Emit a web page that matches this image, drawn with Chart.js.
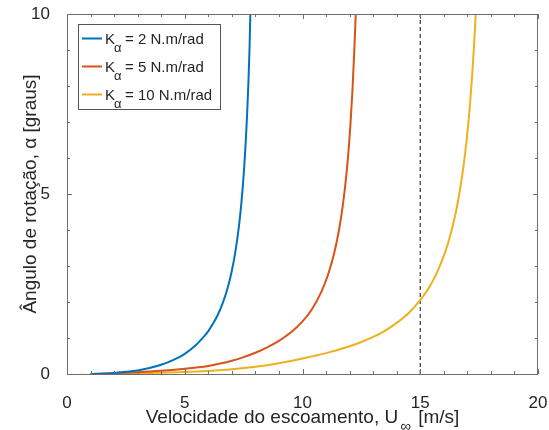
<!DOCTYPE html>
<html>
<head>
<meta charset="utf-8">
<script src="https://cdn.jsdelivr.net/npm/chart.js@4"></script>
<style>
  body { margin: 0; background: #fff; }
  #box { width: 549px; height: 430px; }
</style>
</head>
<body>
<div id="box"><canvas id="myChart"></canvas></div>
<script>
// dados (U em m/s, alfa em graus)
var u2 = [1.0, 1.5, 2.0, 2.5, 3.0, 3.5, 4.0, 4.5, 5.0, 5.5, 5.8, 6.0, 6.2, 6.4, 6.6, 6.8, 7.0, 7.15, 7.3, 7.4, 7.5, 7.58, 7.65, 7.7, 7.75, 7.785];
var alfa2 = [0, 0.01, 0.03, 0.06, 0.1, 0.165, 0.255, 0.385, 0.56, 0.82, 1.03, 1.19, 1.4, 1.64, 1.95, 2.34, 2.87, 3.4, 4.1, 4.72, 5.51, 6.33, 7.23, 8.04, 9.02, 10];

var u5 = [1.0, 2.0, 3.0, 4.0, 5.0, 6.0, 6.5, 7.0, 7.5, 8.0, 8.5, 9.0, 9.5, 10.0, 10.4, 10.8, 11.1, 11.35, 11.55, 11.7, 11.82, 11.93, 12.03, 12.12, 12.2, 12.26];
var alfa5 = [0, 0.02, 0.05, 0.09, 0.145, 0.225, 0.29, 0.37, 0.47, 0.59, 0.74, 0.92, 1.15, 1.46, 1.8, 2.28, 2.79, 3.37, 4.0, 4.63, 5.27, 6.01, 6.87, 7.86, 8.99, 10];

var u10 = [1.0, 2.0, 3.0, 4.0, 5.0, 6.0, 7.0, 8.0, 9.0, 10.0, 11.0, 12.0, 12.5, 13.0, 13.5, 14.0, 14.5, 15.0, 15.4, 15.75, 16.05, 16.3, 16.5, 16.68, 16.84, 16.98, 17.1, 17.2, 17.28, 17.355];
var alfa10 = [0, 0.01, 0.02, 0.035, 0.055, 0.085, 0.13, 0.2, 0.3, 0.43, 0.58, 0.77, 0.89, 1.03, 1.2, 1.42, 1.69, 2.05, 2.43, 2.88, 3.37, 3.91, 4.46, 5.09, 5.79, 6.56, 7.39, 8.25, 9.08, 10];

var uLimite = 15;
var legendas = ["2 N.m/rad", "5 N.m/rad", "10 N.m/rad"];
var cores = ["#0072BD", "#D95319", "#EDB120"];
var xTicksLabel = [0, 5, 10, 15, 20];
var yTicksLabel = [0, 5, 10];

function pontos(xs, ys) {
    var p = [];
    for (let i = 0; i < xs.length; i++) {
        p.push({ x: xs[i], y: ys[i] });
    }
    return p;
}

var fonte = "'Liberation Sans', Arial, sans-serif";
var corEixo = "#6e6e6e";

var molduraPlugin = {
    id: "moldura",
    afterDraw: function (chart) {
        var ctx = chart.ctx;
        var a = chart.chartArea;
        var sx = chart.scales.x;
        var sy = chart.scales.y;
        ctx.save();
        ctx.strokeStyle = corEixo;
        ctx.lineWidth = 1;
        ctx.strokeRect(a.left + 0.5, a.top + 0.5, a.right - a.left - 1, a.bottom - a.top);

        // ticks para dentro, em todos os lados
        ctx.beginPath();
        for (let v = 0; v <= 20; v++) {
            var px = Math.round(sx.getPixelForValue(v)) + 0.5;
            var len = (v % 5 == 0) ? 5 : 3;
            ctx.moveTo(px, a.bottom); ctx.lineTo(px, a.bottom - len);
            ctx.moveTo(px, a.top); ctx.lineTo(px, a.top + len);
        }
        for (let v = 0; v <= 10; v++) {
            var py = Math.round(sy.getPixelForValue(v)) + 0.5;
            var len2 = (v % 5 == 0) ? 5 : 3;
            ctx.moveTo(a.left, py); ctx.lineTo(a.left + len2, py);
            ctx.moveTo(a.right, py); ctx.lineTo(a.right - len2, py);
        }
        ctx.stroke();

        // legenda
        var lx = 78, ly = 24, lw = 142, lh = 85;
        ctx.fillStyle = "#fff";
        ctx.fillRect(lx, ly, lw, lh);
        ctx.strokeStyle = "#555";
        ctx.strokeRect(lx + 0.5, ly + 0.5, lw, lh);
        for (let i = 0; i < legendas.length; i++) {
            var yy = 38.5 + i * 28;
            ctx.strokeStyle = cores[i];
            ctx.lineWidth = 2;
            ctx.beginPath();
            ctx.moveTo(82, yy); ctx.lineTo(102, yy);
            ctx.stroke();
            ctx.fillStyle = "#262626";
            ctx.textBaseline = "alphabetic";
            ctx.textAlign = "left";
            ctx.font = "15px " + fonte;
            ctx.fillText("K", 105, yy + 5);
            ctx.font = "13px " + fonte;
            ctx.fillText("\u03b1", 114, yy + 13);
            ctx.font = "15px " + fonte;
            ctx.fillText("= " + legendas[i], 125, yy + 5);
        }

        // titulo do eixo x com subscrito
        ctx.fillStyle = "#262626";
        ctx.textBaseline = "alphabetic";
        var t1 = "Velocidade do escoamento, U";
        var t2 = "\u221e";
        var t3 = " [m/s]";
        ctx.font = "19px " + fonte;
        var w1 = ctx.measureText(t1).width;
        var w3 = ctx.measureText(t3).width;
        ctx.font = "15px " + fonte;
        var w2 = ctx.measureText(t2).width + 4;
        var total = w1 + w2 + w3;
        var x0 = (a.left + a.right) / 2 - total / 2;
        ctx.textAlign = "left";
        ctx.font = "19px " + fonte;
        ctx.fillText(t1, x0, 423);
        ctx.font = "15px " + fonte;
        ctx.fillText(t2, x0 + w1 + 2, 431);
        ctx.font = "19px " + fonte;
        ctx.fillText(t3, x0 + w1 + w2, 423);

        // titulo do eixo y
        ctx.translate(36, (a.top + a.bottom) / 2);
        ctx.rotate(-Math.PI / 2);
        ctx.textAlign = "center";
        ctx.font = "19px " + fonte;
        ctx.fillText("\u00c2ngulo de rota\u00e7\u00e3o, \u03b1 [graus]", 0, 0);
        ctx.restore();
    }
};

var ctx = document.getElementById("myChart").getContext("2d");
var myChart = new Chart(ctx, {
    type: "scatter",
    data: {
        datasets: [
            { data: pontos(u2, alfa2), borderColor: cores[0] },
            { data: pontos(u5, alfa5), borderColor: cores[1] },
            { data: pontos(u10, alfa10), borderColor: cores[2] },
            {
                data: pontos([uLimite, uLimite], [0, 10]),
                borderColor: "#333",
                borderWidth: 1.2,
                borderDash: [4, 3],
                cubicInterpolationMode: "default",
                tension: 0
            }
        ]
    },
    options: {
        responsive: true,
        maintainAspectRatio: false,
        animation: false,
        layout: { padding: { top: 14, right: 11, left: 0, bottom: 0 } },
        datasets: {
            scatter: {
                showLine: true,
                pointRadius: 0,
                borderWidth: 2,
                cubicInterpolationMode: "monotone",
                clip: 0
            }
        },
        plugins: {
            legend: { display: false },
            tooltip: { enabled: false }
        },
        scales: {
            x: {
                type: "linear",
                min: 0,
                max: 20,
                afterFit: function (s) {
                    s.height = 56;
                    s.paddingLeft = 0;
                    s.paddingRight = 0;
                },
                grid: { display: false },
                border: { display: false },
                ticks: {
                    stepSize: 1,
                    autoSkip: false,
                    maxRotation: 0,
                    padding: 11,
                    color: "#262626",
                    font: { family: fonte, size: 17 },
                    callback: function (v) { return xTicksLabel.indexOf(v) >= 0 ? String(v) : ""; }
                }
            },
            y: {
                type: "linear",
                min: 0,
                max: 10,
                afterFit: function (s) {
                    s.width = 67;
                    s.paddingTop = 0;
                    s.paddingBottom = 0;
                },
                grid: { display: false },
                border: { display: false },
                ticks: {
                    stepSize: 1,
                    autoSkip: false,
                    padding: 9,
                    color: "#262626",
                    font: { family: fonte, size: 17 },
                    callback: function (v) { return yTicksLabel.indexOf(v) >= 0 ? String(v) : ""; }
                }
            }
        }
    },
    plugins: [molduraPlugin]
});
</script>
</body>
</html>
